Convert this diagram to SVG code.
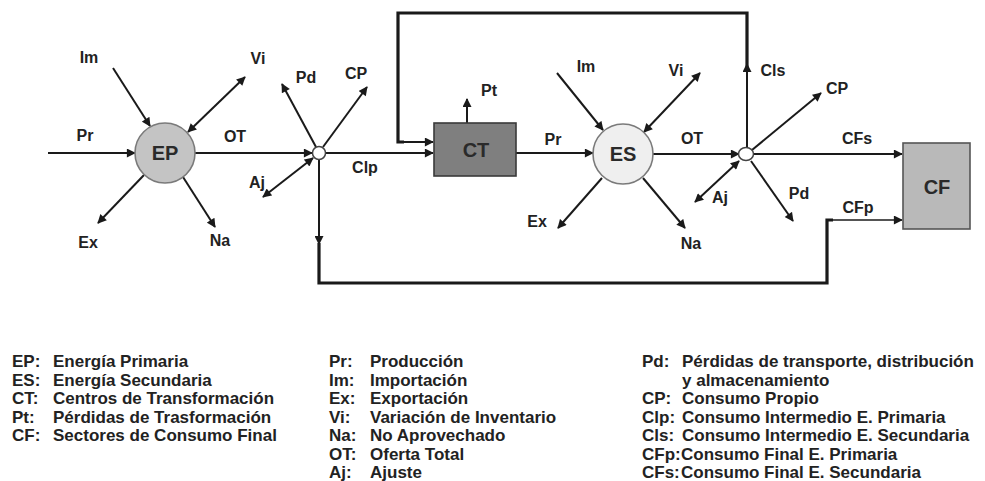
<svg xmlns="http://www.w3.org/2000/svg" width="985" height="481" viewBox="0 0 985 481">
<style>
.ln{stroke:#1a1a1a;stroke-width:2;fill:none}
.th{stroke:#1a1a1a;stroke-width:3.2;fill:none;stroke-linejoin:miter}
.tn{stroke:#1a1a1a;stroke-width:1.6;fill:none}
.a{marker-end:url(#ah)}
.d{marker-start:url(#ah);marker-end:url(#ah)}
.lb{font-family:"Liberation Sans",Arial,sans-serif;font-weight:bold;font-size:16px;fill:#222;text-anchor:middle}
.nt{font-family:"Liberation Sans",Arial,sans-serif;font-weight:bold;font-size:20px;fill:#2a2a2a;text-anchor:middle}
.lg{font-family:"Liberation Sans",Arial,sans-serif;font-weight:bold;font-size:17px;fill:#222}
</style>
<defs>
<marker id="ah" viewBox="0 0 10 10" refX="9" refY="5" markerWidth="10" markerHeight="9" markerUnits="userSpaceOnUse" orient="auto-start-reverse">
<path d="M0,0 L10,5 L0,10 z" fill="#1a1a1a"/>
</marker>
</defs>
<rect width="985" height="481" fill="#ffffff"/>

<g id="connectors">
<!-- EP side -->
<line class="ln a" x1="48" y1="153" x2="135" y2="153"/>
<line class="ln a" x1="113" y1="68" x2="150" y2="126"/>
<line class="ln d" x1="245" y1="77" x2="188" y2="132"/>
<line class="ln a" x1="144" y1="175" x2="98" y2="223"/>
<line class="ln a" x1="183" y1="177" x2="215" y2="227"/>
<line class="ln a" x1="195" y1="153" x2="312" y2="153"/>
<!-- junction 1 -->
<line class="ln a" x1="316" y1="147" x2="282" y2="84"/>
<line class="ln a" x1="323" y1="147" x2="367" y2="87"/>
<line class="ln d" x1="313" y1="158" x2="263" y2="197"/>
<line class="ln a" x1="326" y1="153" x2="433" y2="153"/>
<line class="ln a" x1="319" y1="160" x2="319" y2="244"/>
<path class="th" d="M319,243 V283 H827 V220 H833"/>
<line class="tn a" x1="830" y1="220" x2="902" y2="220"/>
<!-- top loop -->
<line class="ln a" x1="747" y1="147" x2="747" y2="64"/>
<path class="th" d="M747,68 V13 H398 V142 H404"/>
<line class="ln a" x1="400" y1="142" x2="433" y2="142"/>
<!-- CT side -->
<line class="ln a" x1="467" y1="123" x2="467" y2="99"/>
<line class="ln a" x1="516" y1="153" x2="593" y2="153"/>
<!-- ES side -->
<line class="ln a" x1="557" y1="73" x2="603" y2="130"/>
<line class="ln d" x1="700" y1="73" x2="644" y2="132"/>
<line class="ln a" x1="602" y1="178" x2="558" y2="228"/>
<line class="ln a" x1="643" y1="178" x2="685" y2="228"/>
<line class="ln a" x1="653" y1="154" x2="739" y2="154"/>
<!-- junction 2 -->
<line class="ln a" x1="752" y1="150" x2="821" y2="93"/>
<line class="ln a" x1="754" y1="154" x2="902" y2="154"/>
<line class="ln d" x1="739" y1="161" x2="695" y2="202"/>
<line class="ln a" x1="751" y1="161" x2="793" y2="221"/>

<text class="lb" x="85" y="141">Pr</text>
<text class="lb" x="89" y="63">Im</text>
<text class="lb" x="258" y="64">Vi</text>
<text class="lb" x="235" y="142">OT</text>
<text class="lb" x="88" y="248">Ex</text>
<text class="lb" x="220" y="246">Na</text>
<text class="lb" x="306" y="83">Pd</text>
<text class="lb" x="356" y="79">CP</text>
<text class="lb" x="257" y="188">Aj</text>
<text class="lb" x="365" y="173">Clp</text>
<text class="lb" x="489" y="96">Pt</text>
<text class="lb" x="553" y="145">Pr</text>
<text class="lb" x="586" y="72">Im</text>
<text class="lb" x="676" y="76">Vi</text>
<text class="lb" x="537" y="227">Ex</text>
<text class="lb" x="691" y="249">Na</text>
<text class="lb" x="692" y="144">OT</text>
<text class="lb" x="773" y="76">Cls</text>
<text class="lb" x="837" y="94">CP</text>
<text class="lb" x="857" y="144">CFs</text>
<text class="lb" x="720" y="203">Aj</text>
<text class="lb" x="799" y="199">Pd</text>
<text class="lb" x="858" y="213">CFp</text>
</g>

<g id="EP">
<circle cx="165" cy="153" r="30" fill="#c4c4c4" stroke="#7a7a7a" stroke-width="1.6"/>
<text class="nt" x="165" y="160">EP</text>
</g>
<g id="J1">
<circle cx="319" cy="153" r="6.5" fill="#ffffff" stroke="#444" stroke-width="1.5"/>
</g>
<g id="CT">
<rect x="434" y="123" width="82" height="53" fill="#7f7f7f" stroke="#3a3a3a" stroke-width="1.6"/>
<text class="nt" x="476" y="157">CT</text>
</g>
<g id="ES">
<circle cx="623" cy="154" r="30" fill="#efefef" stroke="#7a7a7a" stroke-width="1.6"/>
<text class="nt" x="623" y="161">ES</text>
</g>
<g id="J2">
<ellipse cx="746" cy="154" rx="7.5" ry="6.5" fill="#ffffff" stroke="#444" stroke-width="1.5"/>
</g>
<g id="CF">
<rect x="903" y="143" width="67" height="86" fill="#b9b9b9" stroke="#555" stroke-width="1.6"/>
<text class="nt" x="937" y="194">CF</text>
</g>

<g id="legend">
<text class="lg" x="12" y="367">EP:</text><text class="lg" x="53" y="367">Energía Primaria</text>
<text class="lg" x="12" y="385.5">ES:</text><text class="lg" x="53" y="385.5">Energía Secundaria</text>
<text class="lg" x="12" y="404">CT:</text><text class="lg" x="53" y="404">Centros de Transformación</text>
<text class="lg" x="12" y="422.5">Pt:</text><text class="lg" x="53" y="422.5">Pérdidas de Trasformación</text>
<text class="lg" x="12" y="441">CF:</text><text class="lg" x="53" y="441">Sectores de Consumo Final</text>

<text class="lg" x="329" y="367">Pr:</text><text class="lg" x="370" y="367">Producción</text>
<text class="lg" x="329" y="385.5">Im:</text><text class="lg" x="370" y="385.5">Importación</text>
<text class="lg" x="329" y="404">Ex:</text><text class="lg" x="370" y="404">Exportación</text>
<text class="lg" x="329" y="422.5">Vi:</text><text class="lg" x="370" y="422.5">Variación de Inventario</text>
<text class="lg" x="329" y="441">Na:</text><text class="lg" x="370" y="441">No Aprovechado</text>
<text class="lg" x="329" y="459.5">OT:</text><text class="lg" x="370" y="459.5">Oferta Total</text>
<text class="lg" x="329" y="478">Aj:</text><text class="lg" x="370" y="478">Ajuste</text>

<text class="lg" x="642" y="367">Pd:</text><text class="lg" x="682" y="367">Pérdidas de transporte, distribución</text>
<text class="lg" x="682" y="385.5">y almacenamiento</text>
<text class="lg" x="642" y="404">CP:</text><text class="lg" x="682" y="404">Consumo Propio</text>
<text class="lg" x="642" y="422.5">Clp:</text><text class="lg" x="682" y="422.5">Consumo Intermedio E. Primaria</text>
<text class="lg" x="642" y="441">Cls:</text><text class="lg" x="682" y="441">Consumo Intermedio E. Secundaria</text>
<text class="lg" x="642" y="459.5">CFp:</text><text class="lg" x="681" y="459.5">Consumo Final E. Primaria</text>
<text class="lg" x="642" y="478">CFs:</text><text class="lg" x="681" y="478">Consumo Final E. Secundaria</text>
</g>
</svg>
